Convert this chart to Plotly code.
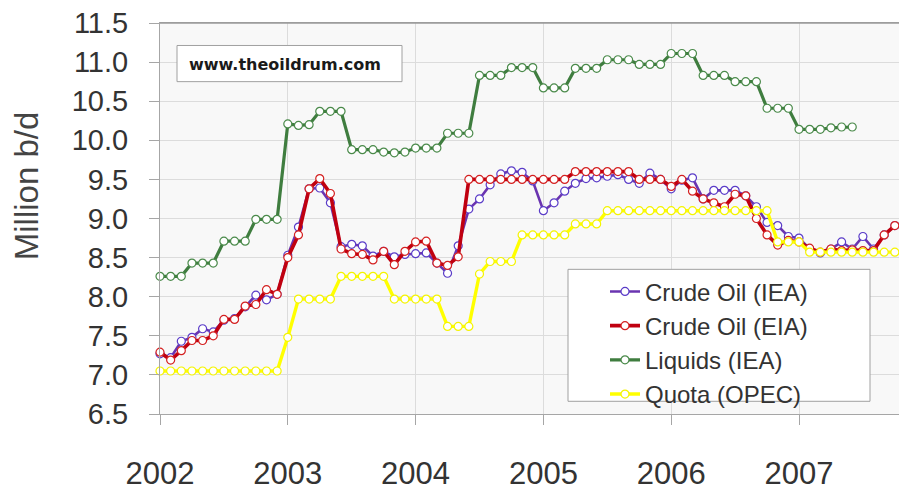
import plotly.graph_objects as go

# ---------------- data (monthly, starting Jan 2002) ----------------
start_year = 2002
year_ticks = [2002, 2003, 2004, 2005, 2006, 2007]
year_labels = ["2002", "2003", "2004", "2005", "2006", "2007"]
y_ticks = [6.5, 7.0, 7.5, 8.0, 8.5, 9.0, 9.5, 10.0, 10.5, 11.0, 11.5]

crude_iea = [
    7.27, 7.22, 7.43, 7.48, 7.59, 7.55, 7.70, 7.72, 7.87, 8.02, 7.96, 8.03,
    8.53, 8.89, 9.38, 9.39, 9.20, 8.64, 8.67, 8.65, 8.52, 8.58, 8.51, 8.54,
    8.55, 8.56, 8.43, 8.30, 8.65, 9.12, 9.25, 9.43, 9.57, 9.61, 9.59, 9.48,
    9.10, 9.20, 9.35, 9.45, 9.51, 9.52, 9.54, 9.56, 9.50, 9.45, 9.58, 9.50,
    9.38, 9.49, 9.52, 9.25, 9.36, 9.36, 9.36, 9.29, 9.15, 8.95, 8.91, 8.77,
    8.75, 8.61, 8.56, 8.61, 8.70, 8.61, 8.77, 8.61, 8.79, 8.91,
]
crude_eia = [
    7.29, 7.19, 7.31, 7.44, 7.44, 7.50, 7.71, 7.71, 7.88, 7.90, 8.09, 8.03,
    8.50, 8.79, 9.38, 9.51, 9.32, 8.61, 8.55, 8.54, 8.47, 8.58, 8.41, 8.58,
    8.70, 8.71, 8.43, 8.40, 8.51, 9.50, 9.50, 9.50, 9.50, 9.50, 9.50, 9.50,
    9.50, 9.50, 9.50, 9.60, 9.60, 9.60, 9.60, 9.60, 9.60, 9.50, 9.50, 9.50,
    9.41, 9.50, 9.35, 9.25, 9.20, 9.15, 9.31, 9.29, 9.00, 8.79, 8.66, 8.72,
    8.70, 8.62, 8.57, 8.61, 8.59, 8.60, 8.59, 8.59, 8.79, 8.91,
]
liquids_iea = [
    8.26, 8.26, 8.26, 8.43, 8.43, 8.43, 8.71, 8.71, 8.71, 8.99, 8.99, 8.99,
    10.21, 10.19, 10.20, 10.37, 10.37, 10.37, 9.88, 9.88, 9.88, 9.85, 9.84, 9.85,
    9.90, 9.90, 9.90, 10.09, 10.09, 10.09, 10.83, 10.83, 10.83, 10.93, 10.93, 10.93,
    10.67, 10.67, 10.67, 10.92, 10.92, 10.92, 11.03, 11.03, 11.03, 10.97, 10.97, 10.97,
    11.11, 11.11, 11.11, 10.83, 10.83, 10.83, 10.75, 10.75, 10.75, 10.41, 10.41, 10.41,
    10.14, 10.14, 10.14, 10.16, 10.17, 10.17,
]
quota_opec = [
    7.05, 7.05, 7.05, 7.05, 7.05, 7.05, 7.05, 7.05, 7.05, 7.05, 7.05, 7.05,
    7.48, 7.97, 7.97, 7.97, 7.97, 8.26, 8.26, 8.26, 8.26, 8.26, 7.97, 7.97,
    7.97, 7.97, 7.97, 7.62, 7.62, 7.62, 8.29, 8.45, 8.45, 8.45, 8.79, 8.79,
    8.79, 8.79, 8.79, 8.93, 8.93, 8.93, 9.10, 9.10, 9.10, 9.10, 9.10, 9.10,
    9.10, 9.10, 9.10, 9.10, 9.10, 9.10, 9.10, 9.10, 9.10, 9.10, 8.70, 8.70,
    8.70, 8.57, 8.57, 8.57, 8.57, 8.57, 8.57, 8.57, 8.57, 8.57,
]

series_names = ["Crude Oil (IEA)", "Crude Oil (EIA)", "Liquids (IEA)", "Quota (OPEC)"]
series_values = [crude_iea, crude_eia, liquids_iea, quota_opec]
line_colors = ["#6a34b0", "#c00010", "#3f7d3f", "#ffff00"]
marker_colors = ["#5a3cc8", "#d42020", "#4a8a4a", "#f4f400"]
line_widths = [2.6, 3.6, 3.2, 3.4]


def month_positions(n):
    return [start_year + i / 12.0 for i in range(n)]


fig = go.Figure()
for name, vals, lc, mc, lw in zip(series_names, series_values, line_colors, marker_colors, line_widths):
    fig.add_trace(go.Scatter(
        x=month_positions(len(vals)), y=vals, name=name, mode="lines+markers",
        line=dict(color=lc, width=lw),
        marker=dict(symbol="circle", size=8, color="white", line=dict(color=mc, width=1.2)),
        cliponaxis=False,
    ))

PL, PR, PT, PB = 160, 0, 23, 68
W, H = 899, 491
pw, ph = W - PL - PR, H - PT - PB
px_per_year = 127.8
x_end = start_year + pw / px_per_year


def fx(px):
    return (px - PL) / pw


def fy(py):
    return (H - PB - py) / ph


grid_col = "#dcdcdc"
axis_col = "#a6a6a6"

fig.update_layout(
    width=W, height=H,
    margin=dict(l=PL, r=PR, t=PT, b=PB, pad=0),
    paper_bgcolor="white", plot_bgcolor="#f8f8f8",
    font=dict(family="Liberation Sans, Arial, sans-serif", color="#333333"),
    showlegend=True,
    legend=dict(
        x=fx(568), y=fy(275), xanchor="left", yanchor="top",
        bgcolor="rgba(0,0,0,0)", borderwidth=0,
        font=dict(size=24, color="#333333"), indentation=37,
        itemwidth=30,
    ),
    xaxis=dict(
        range=[start_year, x_end], tickmode="array", tickvals=year_ticks, ticktext=year_labels,
        showgrid=True, gridcolor=grid_col, gridwidth=1, zeroline=False,
        showline=True, linecolor=axis_col, linewidth=1, mirror=True,
        ticks="outside", ticklen=10, tickcolor=axis_col,
        tickfont=dict(size=31, color="#333333"), ticklabelstandoff=22,
    ),
    yaxis=dict(
        range=[6.5, 11.5], tickmode="array", tickvals=y_ticks, tickformat=".1f",
        showgrid=True, gridcolor=grid_col, gridwidth=1, zeroline=False,
        showline=True, linecolor=axis_col, linewidth=1,
        ticks="outside", ticklen=10, tickcolor=axis_col,
        tickfont=dict(size=29, color="#333333"), ticklabelstandoff=15,
    ),
    shapes=[
        dict(type="line", xref="paper", yref="paper", x0=0, x1=1, y0=1, y1=1,
             line=dict(color="#9a9a9a", width=1.5), layer="above"),
        dict(type="rect", xref="paper", yref="paper", x0=fx(568), x1=fx(870), y0=fy(410), y1=fy(275),
             fillcolor="white", line=dict(color="#a0a0a0", width=1), layer="above"),
        dict(type="rect", xref="paper", yref="paper", x0=fx(177), x1=fx(402), y0=fy(83), y1=fy(46),
             fillcolor="white", line=dict(color="#a0a0a0", width=1), layer="above"),
    ],
    annotations=[
        dict(text="<b>www.theoildrum.com</b>", xref="paper", yref="paper", x=fx(187), y=fy(65),
             xanchor="left", yanchor="middle", showarrow=False,
             font=dict(family="DejaVu Sans, Verdana, sans-serif", size=16, color="#1a1a1a")),
        dict(text="Million b/d", xref="paper", yref="paper", x=fx(26), y=fy(190),
             xanchor="center", yanchor="middle", textangle=-90, showarrow=False,
             font=dict(family="Liberation Sans, Arial, sans-serif", size=33, color="#444444")),
    ],
)

fig.write_html(
    "out.html",
    config={"displayModeBar": False},
    post_script="document.body.style.margin='0';document.body.style.overflow='hidden';",
)
